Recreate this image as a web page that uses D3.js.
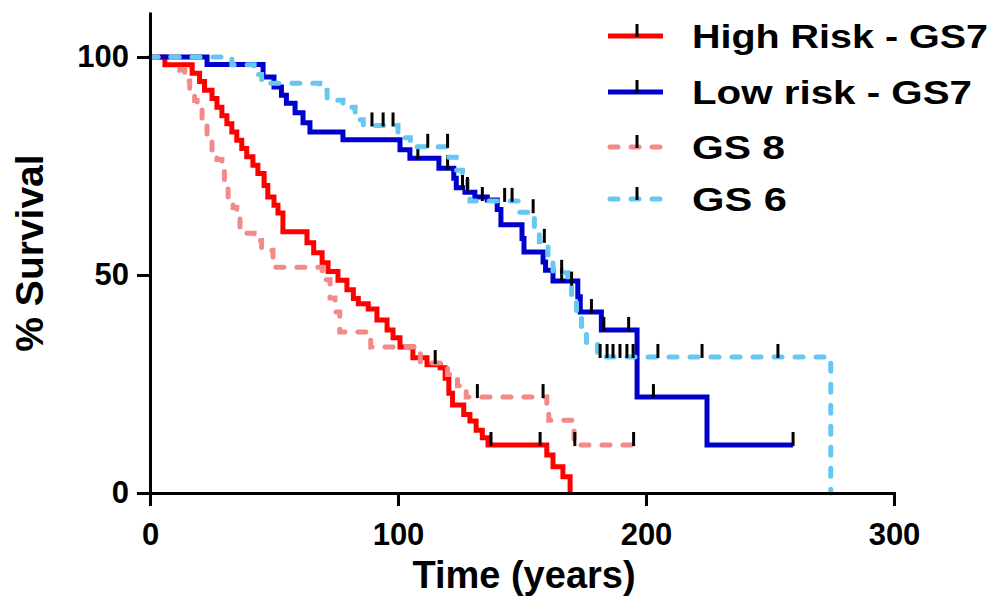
<!DOCTYPE html>
<html>
<head>
<meta charset="utf-8">
<script src="https://cdn.jsdelivr.net/npm/d3@7/dist/d3.min.js"></script>
<style>
  html, body { margin: 0; padding: 0; background: #fff; }
  svg { display: block; }
  text { font-family: "Liberation Sans", Arial, Helvetica, sans-serif; font-weight: bold; fill: #000; }
</style>
</head>
<body>
<svg id="chart" width="1000" height="611"></svg>
<script>
// ---- data (time, survival %) : survival value after each step ----
const seriesNames = ["High Risk - GS7", "Low risk - GS7", "GS 8", "GS 6"];

const highRiskSteps = [[0,100],[6,98.2],[17,96.3],[20,94.4],[22,92.4],[25,90.5],[27,88.5],[29,86.5],[31,84.7],[33,82.8],[35,80.9],[37,79],[39,77.1],[41.5,75.2],[43.5,73.3],[46,70.5],[47.5,67.9],[50,66],[51.6,64.2],[53.6,59.9],[63.3,57.4],[66,55.1],[69.4,52.8],[71.8,50.8],[75.8,48.8],[79.4,46.6],[82,44.6],[84,43.4],[88,42.2],[91.5,39.7],[95.6,37.4],[98,35.6],[100.8,33.5],[106,31.0],[111.7,29.4],[117,28.7],[119,26.3],[120.5,22.9],[122,20.2],[126.5,18],[129,16.5],[131.5,14.4],[134,12.7],[136.3,11.0],[160,8.7],[162.5,6.0],[166.5,3.7],[169.4,0]];
const highRiskCensored = [[137.5,11],[157.3,11]];

const lowRiskSteps = [[0,100],[23,98.3],[45.6,95.4],[50,93.1],[53,91.2],[55,89.4],[58.5,87.2],[61.7,84.9],[64.5,82.8],[77.8,81.0],[100.8,78.7],[104.8,76.8],[116.5,74.5],[122.5,72.2],[123.5,70],[127,69],[131,67.9],[136,67.2],[140,65],[141.5,61.5],[150,58.4],[150.8,55.3],[158.5,53],[159.5,51.1],[162.5,48.6],[172.5,45],[173.5,41.5],[182,37.4],[196.4,22.0],[224.6,11.0],[259.3,11.0]];
const lowRiskCensored = [[108,76.8],[120,74.5],[126,70],[134,67.2],[166,48.6],[178,41.5],[183,37.4],[193,37.4],[203,22.0],[259.3,11.0]];

const gs8Steps = [[0,100],[12,97],[14,94.5],[16,92.4],[18,90],[19,88.5],[21,85.6],[23,81],[25,78],[27,76.5],[29,74.8],[30,71.8],[31.5,67.9],[33.5,65.5],[35,63.3],[36.3,59.6],[42,57.9],[45,55.7],[49.6,51.8],[69.5,48.9],[72.6,44.7],[74.6,41.5],[76.5,36.9],[89,33.5],[109,29.8],[120,27.2],[124,24.6],[127.5,22],[160,19],[160.8,16.7],[171,11],[195,11]];
const gs8Censored = [[115,29.8],[132,22],[158.5,22],[171.3,11],[195,11]];

const gs6Steps = [[0,100],[33,98.2],[42,96],[45,94],[68.5,92.4],[71.4,90.1],[77.8,88.5],[82.7,85.6],[86,84.3],[100,81.5],[105,79.4],[120,77],[123.5,74],[126,72],[128,69.5],[129,67],[149,64.4],[155,61],[157,57.6],[160.5,54],[162.5,50.5],[168.5,47.8],[170,45],[172,40.8],[174,37],[176,34.4],[180.5,31.2],[274.5,0]];
const gs6Censored = [[89.5,84.3],[94,84.3],[98,84.3],[112,79.4],[120,79.4],[128,69.5],[143,67],[146,67],[154.5,64.4],[159,57.6],[166,50.5],[170,47.8],[181.5,31.2],[184.3,31.2],[186.7,31.2],[189.5,31.2],[192.3,31.2],[194.8,31.2],[204.8,31.2],[222.6,31.2],[253.2,31.2]];

const xTicks = [0, 100, 200, 300];
const yTicks = [0, 50, 100];
const xTitle = "Time (years)";
const yTitle = "% Survival";

// ---- drawing ----
const svg = d3.select("#chart");
const x = d3.scaleLinear().domain([0, 300]).range([150, 894]);
const y = d3.scaleLinear().domain([0, 110]).range([493, 13.4]);

const series = [
  { name: seriesNames[0], steps: highRiskSteps, cens: highRiskCensored, color: "#ff0000", dash: null },
  { name: seriesNames[1], steps: lowRiskSteps,  cens: lowRiskCensored,  color: "#0000cc", dash: null },
  { name: seriesNames[2], steps: gs8Steps,      cens: gs8Censored,      color: "#f28a8a", dash: "8,13" },
  { name: seriesNames[3], steps: gs6Steps,      cens: gs6Censored,      color: "#66c8f2", dash: "8,13" }
];

const line = d3.line().x(d => x(d[0])).y(d => y(d[1])).curve(d3.curveStepAfter);

series.forEach(s => {
  const g = svg.append("g");
  g.append("path")
    .datum(s.steps)
    .attr("d", line)
    .attr("fill", "none")
    .attr("stroke", s.color)
    .attr("stroke-width", 5)
    .attr("stroke-linecap", s.dash ? "round" : "butt")
    .attr("stroke-dasharray", s.dash);
  g.selectAll("line.cens").data(s.cens).enter().append("line")
    .attr("x1", d => x(d[0])).attr("x2", d => x(d[0]))
    .attr("y1", d => y(d[1]) - 13).attr("y2", d => y(d[1]) + 1)
    .attr("stroke", "#000").attr("stroke-width", 3);
});

// axes
const yAxis = d3.axisLeft(y).tickValues(yTicks).tickSize(13).tickSizeOuter(0).tickPadding(8);
const gy = svg.append("g").attr("transform", "translate(150,0)").call(yAxis);
gy.selectAll("text").style("font-size", "31px").style("font-weight", "bold")
  .style("font-family", '"Liberation Sans", Arial, sans-serif').attr("fill", "#000");

const xAxis = d3.axisBottom(x).tickValues(xTicks).tickSize(13).tickSizeOuter(0).tickPadding(8);
const gx = svg.append("g").attr("transform", "translate(0,493)").call(xAxis);
gx.selectAll("text").style("font-size", "31px").style("font-weight", "bold")
  .style("font-family", '"Liberation Sans", Arial, sans-serif').attr("fill", "#000")
  .attr("y", 52).attr("dy", 0);

[gx, gy].forEach(g => {
  g.select(".domain").attr("stroke", "#000").attr("stroke-width", 3).attr("stroke-linecap", "square");
  g.selectAll(".tick line").attr("stroke", "#000").attr("stroke-width", 3);
});

// axis titles
svg.append("text").attr("x", 524).attr("y", 588).attr("text-anchor", "middle")
  .style("font-size", "38px").text(xTitle);
svg.append("text").attr("transform", "translate(43,253) rotate(-90)").attr("text-anchor", "middle")
  .style("font-size", "39px").text(yTitle);

// legend
const legendLengths = [296, 280, 93, 95];
const legendRowY = [36, 92, 147, 199];
const lg = svg.append("g");
series.forEach((s, i) => {
  const ly = legendRowY[i];
  lg.append("line").attr("x1", s.dash ? 610 : 608).attr("x2", 663).attr("y1", ly).attr("y2", ly)
    .attr("stroke", s.color).attr("stroke-width", 5)
    .attr("stroke-linecap", s.dash ? "round" : "butt")
    .attr("stroke-dasharray", s.dash);
  lg.append("line").attr("x1", 637).attr("x2", 637).attr("y1", ly - 12).attr("y2", ly + 1)
    .attr("stroke", "#000").attr("stroke-width", 3);
  lg.append("text").attr("x", 692).attr("y", ly + 12)
    .style("font-size", "34px")
    .attr("textLength", legendLengths[i]).attr("lengthAdjust", "spacingAndGlyphs")
    .text(s.name);
});
</script>
</body>
</html>
